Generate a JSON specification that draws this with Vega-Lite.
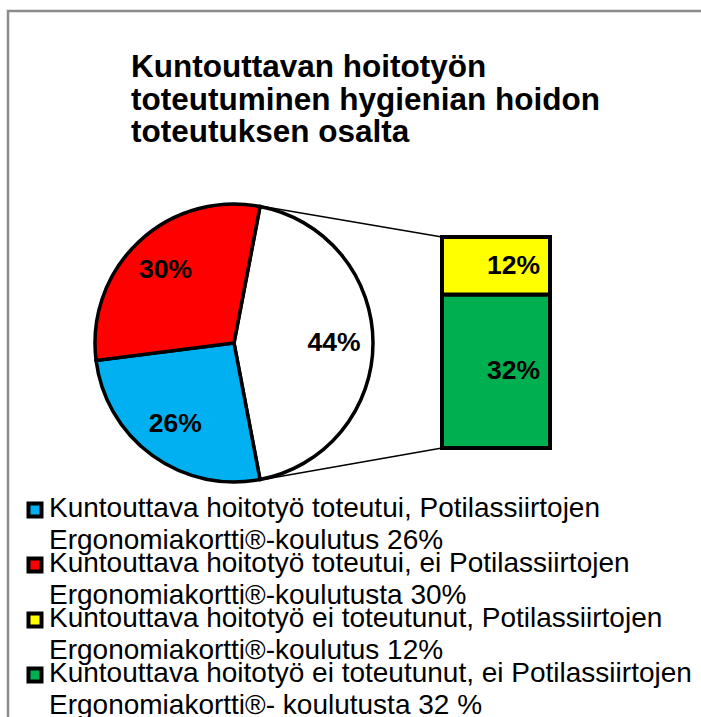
{
  "$schema": "https://vega.github.io/schema/vega-lite/v6.json",
  "width": 701,
  "height": 717,
  "autosize": {"type": "fit", "contains": "padding"},
  "padding": 0,
  "background": "white",
  "config": {"view": {"stroke": null}, "font": "Liberation Sans"},
  "datasets": {
    "pie": [
      {"osa": "Ei toteutunut", "arvo": 0.44, "jarj": 1},
      {"osa": "Toteutui, koulutus", "arvo": 0.26, "jarj": 2},
      {"osa": "Toteutui, ei koulutusta", "arvo": 0.30, "jarj": 3}
    ],
    "palkki": [
      {"osa": "Ei toteutunut, ei koulutusta", "arvo": 0.32, "jarj": 1},
      {"osa": "Ei toteutunut, koulutus", "arvo": 0.12, "jarj": 2}
    ],
    "selite": [
      {"osa": "Toteutui, koulutus", "rivi": 1, "teksti": "Kuntouttava hoitotyö toteutui, Potilassiirtojen\nErgonomiakortti®-koulutus 26%"},
      {"osa": "Toteutui, ei koulutusta", "rivi": 2, "teksti": "Kuntouttava hoitotyö toteutui, ei Potilassiirtojen\nErgonomiakortti®-koulutusta 30%"},
      {"osa": "Ei toteutunut, koulutus", "rivi": 3, "teksti": "Kuntouttava hoitotyö ei toteutunut, Potilassiirtojen\nErgonomiakortti®-koulutus 12%"},
      {"osa": "Ei toteutunut, ei koulutusta", "rivi": 4, "teksti": "Kuntouttava hoitotyö ei toteutunut, ei Potilassiirtojen\nErgonomiakortti®- koulutusta 32 %"}
    ]
  },
  "resolve": {"scale": {"y": "independent"}},
  "layer": [
    {
      "data": {"values": [{}]},
      "mark": {"type": "rect", "fill": "transparent", "stroke": "#8c8c8c", "strokeWidth": 2.5, "clip": true},
      "encoding": {
        "x": {"datum": 8, "type": "quantitative", "scale": {"domain": [0, 701], "range": [0, 701]}, "axis": null},
        "x2": {"datum": 760},
        "y": {"datum": 11, "type": "quantitative", "scale": {"domain": [0, 717], "range": [0, 717]}, "axis": null},
        "y2": {"datum": 780}
      }
    },
    {
      "data": {"values": [{}]},
      "mark": {"type": "rule", "color": "black", "strokeWidth": 1.5},
      "encoding": {
        "x": {"datum": 260, "type": "quantitative", "scale": {"domain": [0, 701], "range": [0, 701]}, "axis": null},
        "x2": {"datum": 442},
        "y": {"datum": 206, "type": "quantitative", "scale": {"domain": [0, 717], "range": [0, 717]}, "axis": null},
        "y2": {"datum": 237}
      }
    },
    {
      "data": {"values": [{}]},
      "mark": {"type": "rule", "color": "black", "strokeWidth": 1.5},
      "encoding": {
        "x": {"datum": 260, "type": "quantitative", "scale": {"domain": [0, 701], "range": [0, 701]}, "axis": null},
        "x2": {"datum": 442},
        "y": {"datum": 480, "type": "quantitative", "scale": {"domain": [0, 717], "range": [0, 717]}, "axis": null},
        "y2": {"datum": 448}
      }
    },
    {
      "data": {"name": "pie"},
      "mark": {"type": "arc", "outerRadius": 139, "stroke": "black", "strokeWidth": 3.5},
      "encoding": {
        "theta": {"field": "arvo", "type": "quantitative", "stack": true, "scale": {"domain": [0, 1], "range": [0.1885, 6.4717]}},
        "order": {"field": "jarj", "type": "quantitative"},
        "color": {
          "field": "osa", "type": "nominal", "legend": null,
          "scale": {
            "domain": ["Toteutui, koulutus", "Toteutui, ei koulutusta", "Ei toteutunut, koulutus", "Ei toteutunut, ei koulutusta", "Ei toteutunut"],
            "range": ["#00B0F0", "#FF0000", "#FFFF00", "#00B050", "#FFFFFF"]
          }
        },
        "x": {"datum": 234, "type": "quantitative", "scale": {"domain": [0, 701], "range": [0, 701]}, "axis": null},
        "y": {"datum": 343, "type": "quantitative", "scale": {"domain": [0, 717], "range": [0, 717]}, "axis": null}
      }
    },
    {
      "data": {"name": "pie"},
      "mark": {"type": "text", "radius": 100, "fontSize": 26.5, "fontWeight": "bold", "color": "black", "align": "center", "baseline": "middle"},
      "encoding": {
        "theta": {"field": "arvo", "type": "quantitative", "stack": true, "scale": {"domain": [0, 1], "range": [0.1885, 6.4717]}},
        "order": {"field": "jarj", "type": "quantitative"},
        "text": {"field": "arvo", "type": "quantitative", "format": ".0%"},
        "x": {"datum": 234, "type": "quantitative", "scale": {"domain": [0, 701], "range": [0, 701]}, "axis": null},
        "y": {"datum": 343, "type": "quantitative", "scale": {"domain": [0, 717], "range": [0, 717]}, "axis": null}
      }
    },
    {
      "data": {"name": "palkki"},
      "transform": [
        {"stack": "arvo", "groupby": [], "sort": [{"field": "jarj", "order": "ascending"}], "as": ["ala", "yla"]}
      ],
      "mark": {"type": "bar", "stroke": "black", "strokeWidth": 4},
      "encoding": {
        "x": {"datum": 442, "type": "quantitative", "scale": {"domain": [0, 701], "range": [0, 701]}, "axis": null},
        "x2": {"datum": 550},
        "y": {"field": "ala", "type": "quantitative", "scale": {"domain": [0, 0.44], "range": [448, 237]}, "axis": null},
        "y2": {"field": "yla"},
        "color": {"field": "osa", "type": "nominal", "legend": null}
      }
    },
    {
      "data": {"name": "palkki"},
      "mark": {"type": "text", "fontSize": 26.5, "fontWeight": "bold", "color": "black", "align": "right", "baseline": "middle"},
      "encoding": {
        "x": {"datum": 540, "type": "quantitative", "scale": {"domain": [0, 701], "range": [0, 701]}, "axis": null},
        "y": {"field": "arvo", "type": "quantitative", "stack": "zero", "bandPosition": 0.5, "scale": {"domain": [0, 0.44], "range": [448, 237]}, "axis": null},
        "order": {"field": "jarj", "type": "quantitative"},
        "text": {"field": "arvo", "type": "quantitative", "format": ".0%"}
      }
    },
    {
      "data": {"name": "selite"},
      "mark": {"type": "point", "shape": "square", "filled": true, "size": 169, "stroke": "black", "strokeWidth": 4, "opacity": 1},
      "encoding": {
        "x": {"datum": 35, "type": "quantitative", "scale": {"domain": [0, 701], "range": [0, 701]}, "axis": null},
        "y": {"field": "rivi", "type": "quantitative", "scale": {"domain": [1, 4], "range": [510, 675]}, "axis": null},
        "color": {"field": "osa", "type": "nominal", "legend": null}
      }
    },
    {
      "data": {"name": "selite"},
      "mark": {"type": "text", "fontSize": 28, "lineHeight": 32, "lineBreak": "\n", "align": "left", "baseline": "alphabetic", "dy": 7, "color": "black", "clip": true},
      "encoding": {
        "x": {"datum": 49, "type": "quantitative", "scale": {"domain": [0, 701], "range": [0, 701]}, "axis": null},
        "y": {"field": "rivi", "type": "quantitative", "scale": {"domain": [1, 4], "range": [510, 675]}, "axis": null},
        "text": {"field": "teksti", "type": "nominal"}
      }
    },
    {
      "data": {"values": [{}]},
      "mark": {
        "type": "text",
        "text": ["Kuntouttavan hoitotyön", "toteutuminen hygienian hoidon", "toteutuksen osalta"],
        "fontSize": 31.5, "fontWeight": "bold", "lineHeight": 32.5, "align": "left", "baseline": "alphabetic", "color": "black"
      },
      "encoding": {
        "x": {"datum": 131, "type": "quantitative", "scale": {"domain": [0, 701], "range": [0, 701]}, "axis": null},
        "y": {"datum": 77, "type": "quantitative", "scale": {"domain": [0, 717], "range": [0, 717]}, "axis": null}
      }
    }
  ]
}
